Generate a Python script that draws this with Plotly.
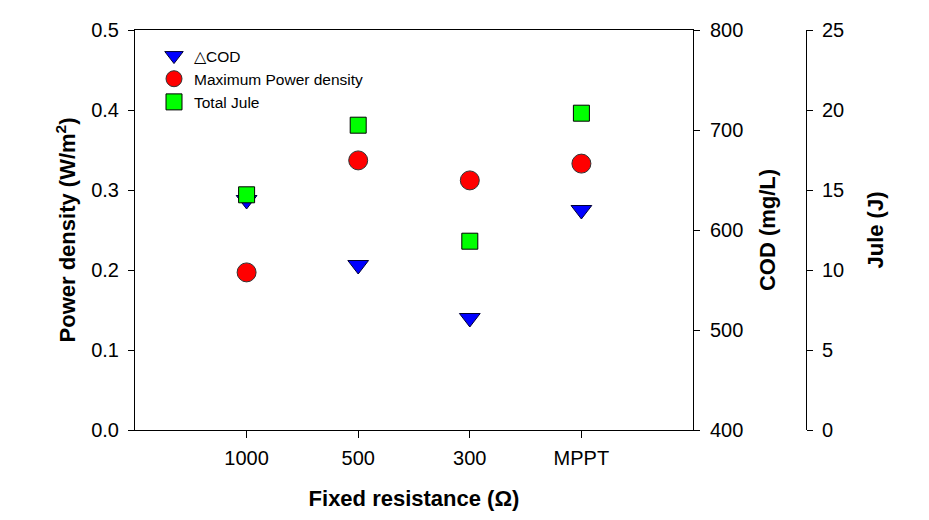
import plotly.graph_objects as go

categories = ["1000", "500", "300", "MPPT"]
power_density = [0.197, 0.337, 0.312, 0.333]   # W/m2
delta_cod = [630, 565, 512, 620]                # mg/L
total_jule = [14.7, 19.05, 11.8, 19.8]          # J

FONT = "Arial, Liberation Sans, sans-serif"
W, H = 929, 520
# the page body adds an 8px offset, so margins are reduced by 8px on the left/top
L, R, T, B = 127, 37, 22, 98
plot_w = W - L - R
plot_h = H - T - B
x_end = 558 / plot_w
jule_pos = 671 / plot_w

fig = go.Figure()
fig.add_trace(go.Scatter(
    x=categories, y=delta_cod, name="△COD", mode="markers", yaxis="y2",
    marker=dict(symbol="triangle-down", size=18, color="#0000FF",
                line=dict(color="#000033", width=1))))
fig.add_trace(go.Scatter(
    x=categories, y=power_density, name="Maximum Power density", mode="markers",
    marker=dict(symbol="circle", size=19, color="#FF0000",
                line=dict(color="#333333", width=1))))
fig.add_trace(go.Scatter(
    x=categories, y=total_jule, name="Total Jule", mode="markers", yaxis="y3",
    marker=dict(symbol="square", size=16, color="#00FF00",
                line=dict(color="#000000", width=1))))

tickfont = dict(family=FONT, size=20, color="black")
titlefont = dict(family=FONT, size=22, color="black")

fig.update_layout(
    width=W, height=H,
    margin=dict(l=L, r=R, t=T, b=B, autoexpand=False),
    paper_bgcolor="white", plot_bgcolor="white",
    font=dict(family=FONT, color="black"),
    xaxis=dict(
        domain=[0, x_end], type="category", range=[-1, 4], automargin=False,
        showline=True, linecolor="black", linewidth=1, mirror=True,
        ticks="outside", ticklen=7, tickcolor="black", tickfont=tickfont,
        ticklabelstandoff=3,
        showgrid=False, zeroline=False,
        title=dict(text="<b>Fixed resistance (Ω)</b>", font=titlefont, standoff=22),
    ),
    yaxis=dict(
        range=[0, 0.5], dtick=0.1, tickformat=".1f", automargin=False,
        showline=True, linecolor="black", linewidth=1,
        ticks="outside", ticklen=6, tickcolor="black", tickfont=tickfont,
        ticklabelstandoff=5,
        showgrid=False, zeroline=False,
        title=dict(text="<b>Power density (W/m<sup>2</sup>)</b>", font=titlefont, standoff=9),
    ),
    yaxis2=dict(
        range=[400, 800], dtick=100, overlaying="y", side="right", anchor="x",
        automargin=False,
        showline=True, linecolor="black", linewidth=1,
        ticks="outside", ticklen=6, tickcolor="black", tickfont=tickfont,
        ticklabelstandoff=6,
        showgrid=False, zeroline=False,
        title=dict(text="<b>COD (mg/L)</b>", font=titlefont, standoff=17),
    ),
    yaxis3=dict(
        range=[0, 25], dtick=5, overlaying="y", side="right", anchor="free",
        position=jule_pos, automargin=False,
        showline=True, linecolor="black", linewidth=1,
        ticks="outside", ticklen=6, tickcolor="black", tickfont=tickfont,
        ticklabelstandoff=5,
        showgrid=False, zeroline=False,
        title=dict(text="<b>Jule (J)</b>", font=titlefont, standoff=24),
    ),
    legend=dict(
        x=19 / plot_w, y=1 - 9 / plot_h, xanchor="left", yanchor="top",
        font=dict(family=FONT, size=15.5, color="black"),
        bgcolor="rgba(0,0,0,0)", borderwidth=0,
    ),
    showlegend=True,
)

fig.write_html("out.html")
